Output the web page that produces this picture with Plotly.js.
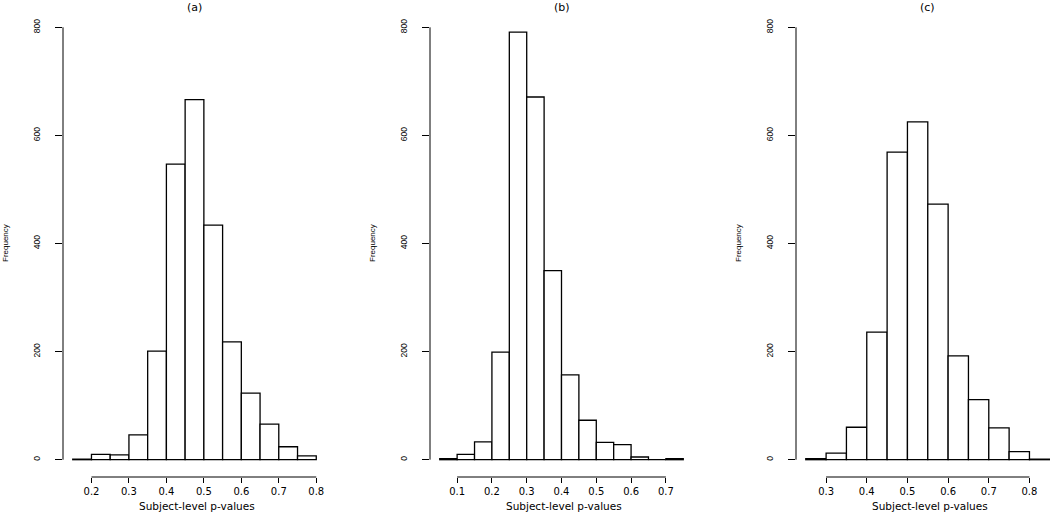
<!DOCTYPE html>
<html>
<head>
<meta charset="utf-8">
<script src="https://cdn.plot.ly/plotly-3.0.1.min.js"></script>
<style>html,body{margin:0;padding:0;background:#fff;}#chart{width:1050px;height:513px;}</style>
</head>
<body>
<div id="chart"></div>
<script>
// ---- data ----
const panelTitles = ["(a)", "(b)", "(c)"];
const xTitle = "Subject-level p-values";
const yTitle = "Frequency";

const binWidth = 0.05;
const centersA = [0.175, 0.225, 0.275, 0.325, 0.375, 0.425, 0.475, 0.525, 0.575, 0.625, 0.675, 0.725, 0.775];
const countsA  = [1, 10, 9, 46, 201, 547, 666, 434, 218, 123, 66, 24, 7];

const centersB = [0.075, 0.125, 0.175, 0.225, 0.275, 0.325, 0.375, 0.425, 0.475, 0.525, 0.575, 0.625, 0.675, 0.725];
const countsB  = [2, 10, 33, 199, 791, 671, 350, 157, 73, 32, 28, 5, 0, 2];

const centersC = [0.275, 0.325, 0.375, 0.425, 0.475, 0.525, 0.575, 0.625, 0.675, 0.725, 0.775, 0.825];
const countsC  = [2, 12, 60, 236, 569, 625, 473, 192, 111, 59, 15, 1];

const xTicksA = [0.2, 0.3, 0.4, 0.5, 0.6, 0.7, 0.8];
const xTicksB = [0.1, 0.2, 0.3, 0.4, 0.5, 0.6, 0.7];
const xTicksC = [0.3, 0.4, 0.5, 0.6, 0.7, 0.8];
const yTicks  = [0, 200, 400, 600, 800];

// ---- layout geometry (pixels) ----
const W = 1050, H = 513;
const panels = [
  {centers: centersA, counts: countsA, xticks: xTicksA, left: 63,  right: 326,  range: [0.124, 0.826]},
  {centers: centersB, counts: countsB, xticks: xTicksB, left: 430, right: 693,  range: [0.022, 0.778]},
  {centers: centersC, counts: countsC, xticks: xTicksC, left: 796, right: 1050, range: [0.226, 0.8505]}
];
const plotTop = 10, plotBottom = 477;
const yDomain = [1 - plotBottom / H, 1 - plotTop / H];

const data = [];
const layout = {
  width: W, height: H,
  margin: {l: 0, r: 0, t: 0, b: 0, pad: 0},
  paper_bgcolor: "#ffffff", plot_bgcolor: "#ffffff",
  showlegend: false,
  bargap: 0,
  shapes: [], annotations: []
};

const tickFontX = {family: "DejaVu Sans, Verdana, sans-serif", size: 10, color: "#000"};
const tickFontY = {family: "Liberation Sans, Arial, sans-serif", size: 8.5, color: "#000"};

panels.forEach((p, i) => {
  const n = i === 0 ? "" : String(i + 1);
  const xa = "x" + n, ya = "y" + n;
  data.push({
    type: "bar", x: p.centers, y: p.counts, width: binWidth,
    xaxis: xa, yaxis: ya,
    marker: {color: "#ffffff", line: {color: "#000000", width: 1.3}},
    hoverinfo: "x+y"
  });
  layout["xaxis" + n] = {
    domain: [p.left / W, p.right / W], range: p.range, anchor: ya,
    tickvals: p.xticks, ticktext: p.xticks.map(v => v.toFixed(1)),
    ticks: "outside", ticklen: 5, tickwidth: 1, tickcolor: "#000",
    showline: false, showgrid: false, zeroline: false,
    tickfont: tickFontX, ticklabelstandoff: 0, fixedrange: true
  };
  layout["yaxis" + n] = {
    domain: yDomain, range: [-32, 832], anchor: xa,
    tickvals: yTicks, ticktext: yTicks.map(String),
    ticks: "outside", ticklen: 7, tickwidth: 1, tickcolor: "#000",
    tickangle: -90,
    showline: false, showgrid: false, zeroline: false,
    tickfont: tickFontY, ticklabelstandoff: 12, fixedrange: true
  };
  // R-style axis lines spanning first to last tick
  layout.shapes.push({type: "line", xref: xa, yref: ya + " domain",
    x0: p.xticks[0], x1: p.xticks[p.xticks.length - 1], y0: 0, y1: 0,
    line: {color: "#000", width: 1}});
  layout.shapes.push({type: "line", xref: xa + " domain", yref: ya,
    x0: 0, x1: 0, y0: yTicks[0], y1: yTicks[yTicks.length - 1],
    line: {color: "#000", width: 1}});
  const cx = (p.left + (i === 2 ? 1059 : p.right)) / 2;
  // panel title
  layout.annotations.push({text: panelTitles[i], xref: "paper", yref: "paper",
    x: cx / W, y: 1, xanchor: "center", yanchor: "top", showarrow: false,
    borderpad: 0, font: {family: "DejaVu Sans, Verdana, sans-serif", size: 11, color: "#000"}});
  // x title
  layout.annotations.push({text: xTitle, xref: "paper", yref: "paper",
    x: (cx + 2) / W, y: 0, xanchor: "center", yanchor: "bottom", showarrow: false,
    borderpad: 0, font: {family: "DejaVu Sans, Verdana, sans-serif", size: 10.5, color: "#000"}});
  // y title
  layout.annotations.push({text: yTitle, xref: "paper", yref: "paper",
    x: (p.left - 57) / W, y: 1 - 243 / H, xanchor: "center", yanchor: "middle", showarrow: false,
    textangle: -90,
    font: {family: "Liberation Sans, Arial, sans-serif", size: 8, color: "#000"}});
});

Plotly.newPlot("chart", data, layout, {displayModeBar: false, staticPlot: true});
</script>
</body>
</html>
